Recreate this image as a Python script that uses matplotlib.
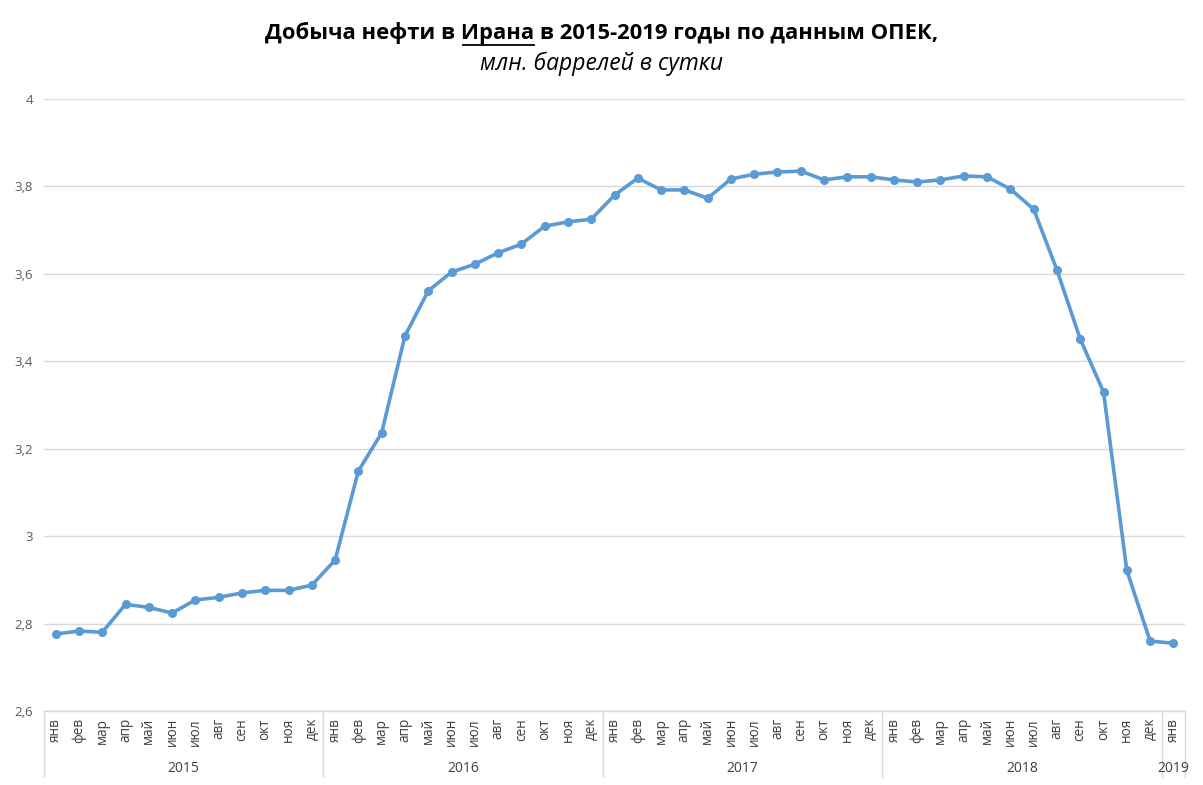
import matplotlib
matplotlib.use("Agg")
import matplotlib.pyplot as plt
from matplotlib.lines import Line2D

months = ["янв", "фев", "мар", "апр", "май", "июн", "июл", "авг", "сен", "окт", "ноя", "дек"]
years = ["2015", "2016", "2017", "2018", "2019"]
values_2015 = [2.776, 2.783, 2.780, 2.844, 2.837, 2.824, 2.854, 2.860, 2.870, 2.876, 2.876, 2.888]
values_2016 = [2.945, 3.149, 3.236, 3.458, 3.561, 3.604, 3.622, 3.648, 3.668, 3.709, 3.719, 3.725]
values_2017 = [3.780, 3.819, 3.792, 3.792, 3.773, 3.817, 3.828, 3.833, 3.835, 3.815, 3.822, 3.822]
values_2018 = [3.815, 3.810, 3.815, 3.824, 3.822, 3.794, 3.748, 3.609, 3.451, 3.330, 2.922, 2.760]
values_2019 = [2.755]
yticks = [2.6, 2.8, 3.0, 3.2, 3.4, 3.6, 3.8, 4.0]
ytick_labels = ["2,6", "2,8", "3", "3,2", "3,4", "3,6", "3,8", "4"]

series_by_year = [values_2015, values_2016, values_2017, values_2018, values_2019]
values = [v for ys in series_by_year for v in ys]
cat_labels = [months[i] for ys in series_by_year for i in range(len(ys))]
x = list(range(len(values)))

FONT = "Open Sans"
W, H = 1203, 785
fig = plt.figure(figsize=(W / 100, H / 100), dpi=100)
ax = fig.add_axes([44 / W, (H - 711) / H, (1185 - 44) / W, (711 - 99) / H])

ax.plot(x, values, color="#5B9BD5", lw=2.6, marker="o", ms=5.5, solid_joinstyle="round", zorder=3)
ax.set_xlim(-0.5, len(values) - 0.5)
ax.set_ylim(2.6, 4.0)
ax.set_yticks(yticks)
ax.set_yticklabels(ytick_labels, fontfamily=FONT, fontsize=9.5, color="#595959")
ax.tick_params(axis="y", length=0, pad=8)
ax.set_xticks([])
ax.grid(axis="y", color="#D9D9D9", lw=1)
ax.set_axisbelow(True)
for s in ["top", "right", "left"]:
    ax.spines[s].set_visible(False)
ax.spines["bottom"].set_color("#D9D9D9")
ax.spines["bottom"].set_linewidth(1)

xt = ax.get_xaxis_transform()
for xi, lab in zip(x, cat_labels):
    ax.text(xi, -7 / 612, lab, transform=xt, rotation=90, ha="center", va="top",
            fontfamily=FONT, fontsize=9.8, color="#404040")

start = 0
bounds = [-0.5]
for yr, ys in zip(years, series_by_year):
    n = len(ys)
    ax.text(start + (n - 1) / 2, -(768 - 711) / 612, yr, transform=xt, ha="center", va="center",
            fontfamily=FONT, fontsize=10, color="#404040")
    start += n
    bounds.append(start - 0.5)
for b in bounds:
    ax.add_line(Line2D([b, b], [0, -(777 - 711) / 612], transform=xt, color="#D9D9D9", lw=1, clip_on=False))

# Title with underlined word
parts = ["Добыча нефти в ", "Ирана", " в 2015-2019 годы по данным ОПЕК,"]
tsize = 15.8
fig.canvas.draw()
r = fig.canvas.get_renderer()
widths = []
for p in parts:
    t = fig.text(0, 0, p, fontfamily=FONT, fontweight="bold", fontsize=tsize)
    widths.append(t.get_window_extent(r).width)
    t.remove()
full = fig.text(0.5, 1 - 33 / H, "".join(parts), ha="center", va="center",
                fontfamily=FONT, fontweight="bold", fontsize=tsize, color="black")
bb = full.get_window_extent(r)
total = sum(widths)
x0 = bb.x0 + (bb.width - total) / 2 + widths[0] + 2
x1 = x0 + widths[1] - 2
uy = H - 45
fig.add_artist(Line2D([x0 / W, x1 / W], [uy / H, uy / H], transform=fig.transFigure, color="black", lw=1.3))

fig.text(0.5, 1 - 64 / H, "млн. баррелей в сутки", ha="center", va="center",
         fontfamily=FONT, fontstyle="italic", fontsize=16.5, color="black")

fig.savefig("out.png", dpi=100, facecolor="white")
